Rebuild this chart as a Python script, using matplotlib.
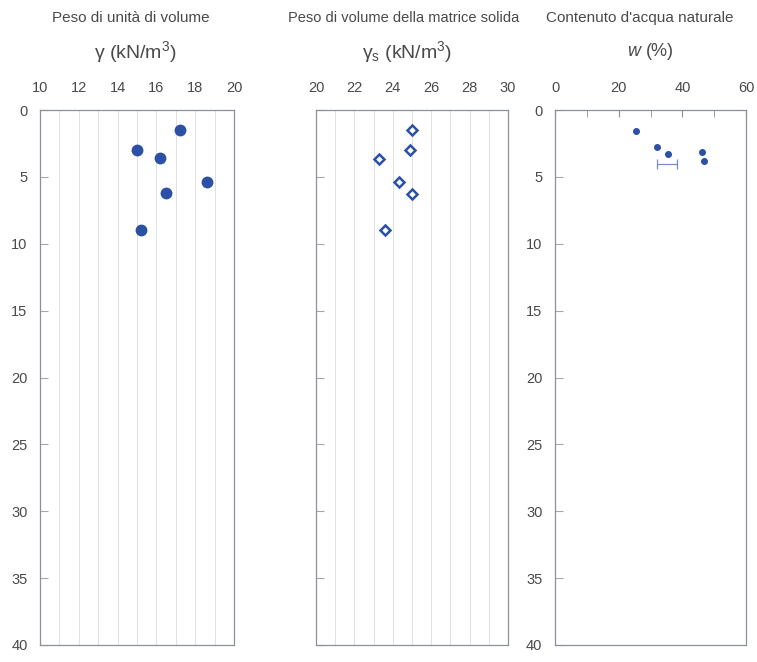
import matplotlib
matplotlib.use("Agg")
import matplotlib.pyplot as plt
from matplotlib.ticker import MultipleLocator

plt.rcParams['font.family'] = ['Liberation Sans', 'DejaVu Sans']
plt.rcParams['mathtext.fontset'] = 'custom'
plt.rcParams['mathtext.rm'] = 'Liberation Sans'
plt.rcParams['mathtext.it'] = 'Liberation Sans:italic'

# Unit weight (kN/m3) vs depth (m)
gamma_depth = [1.5, 3.0, 3.6, 5.4, 6.2, 9.0]
gamma_val = [17.2, 15.0, 16.2, 18.6, 16.5, 15.2]

# Unit weight of solid particles (kN/m3) vs depth (m)
gammas_depth = [1.5, 3.0, 3.7, 5.4, 6.3, 9.0]
gammas_val = [25.0, 24.9, 23.3, 24.3, 25.0, 23.6]

# Natural water content (%) vs depth (m)
w_depth = [1.6, 2.8, 3.3, 3.15, 3.85]
w_val = [25.4, 32.1, 35.4, 46.3, 46.8]
# range bar for water content
w_range_depth = [4.0]
w_range_center = [35.2]
w_range_half = [3.1]

depth_ticks = [0, 5, 10, 15, 20, 25, 30, 35, 40]

blue = '#2b50a6'
spine_c = '#8c909a'
text_c = '#4a4a4a'
narrow = ['Liberation Sans Narrow', 'Liberation Sans']

fig = plt.figure(figsize=(7.57, 6.62), dpi=100)
H = 662.0
W = 757.0
bottom = 17 / H
height = 535 / H
ax1 = fig.add_axes([40 / W, bottom, 194 / W, height])
ax2 = fig.add_axes([316 / W, bottom, 192 / W, height])
ax3 = fig.add_axes([555 / W, bottom, 191 / W, height])


def style(ax, xlim, xmajor, grid, ylabels=True, xticks_len=0):
    ax.set_ylim(40, 0)
    ax.set_xlim(*xlim)
    ax.xaxis.tick_top()
    ax.xaxis.set_major_locator(MultipleLocator(xmajor))
    ax.set_yticks(depth_ticks)
    for s in ax.spines.values():
        s.set_color(spine_c)
        s.set_linewidth(0.9)
    ax.tick_params(axis='x', which='both', direction='in', length=xticks_len,
                   color=spine_c, labelsize=10.5, labelcolor=text_c, pad=11)
    ax.tick_params(axis='y', direction='in', length=6, color='#a8a8a8',
                   labelsize=10.5, labelcolor=text_c, pad=9,
                   labelleft=ylabels)
    if grid:
        ax.xaxis.set_minor_locator(MultipleLocator(1))
        ax.grid(axis='x', which='both', color='#dcdcdc', linewidth=0.6)
        ax.set_axisbelow(True)


style(ax1, (10, 20), 2, True)
style(ax2, (20, 30), 2, True, ylabels=False)
style(ax3, (0, 60), 20, False, xticks_len=5)
ax3.xaxis.set_minor_locator(MultipleLocator(10))
ax3.tick_params(axis='x', which='minor', length=5, color=spine_c)

ax1.plot(gamma_val, gamma_depth, 'o', color=blue, markersize=7.5, zorder=3)
ax2.plot(gammas_val, gammas_depth, 'D', markerfacecolor='white',
         markeredgecolor=blue, markeredgewidth=1.8, markersize=5, zorder=3)
ax3.plot(w_val, w_depth, 'o', color=blue, markersize=4, zorder=3)
ax3.errorbar(w_range_center, w_range_depth, xerr=w_range_half, fmt='none',
             ecolor='#7a8fc0', elinewidth=0.9, capsize=3.5, capthick=0.9)

# Panel headers
fig.text(131 / W, 1 - 18 / H, 'Peso di unità di volume', ha='center', va='center',
         fontsize=11, color=text_c, family=narrow)
fig.text(135 / W, 1 - 52 / H, 'γ (kN/m$^3$)', ha='center', va='center',
         fontsize=14, color=text_c)
fig.text(404 / W, 1 - 18 / H, 'Peso di volume della matrice solida', ha='center',
         va='center', fontsize=10.5, color=text_c, family=narrow)
fig.text(407 / W, 1 - 52 / H, 'γ$_\\mathrm{s}$ (kN/m$^3$)', ha='center',
         va='center', fontsize=14, color=text_c)
fig.text(640 / W, 1 - 18 / H, "Contenuto d'acqua naturale", ha='center', va='center',
         fontsize=11, color=text_c, family=narrow)
fig.text(650 / W, 1 - 52 / H, r'$w$ (%)', ha='center', va='center',
         fontsize=13, color=text_c)

fig.savefig('out.png', dpi=100)
